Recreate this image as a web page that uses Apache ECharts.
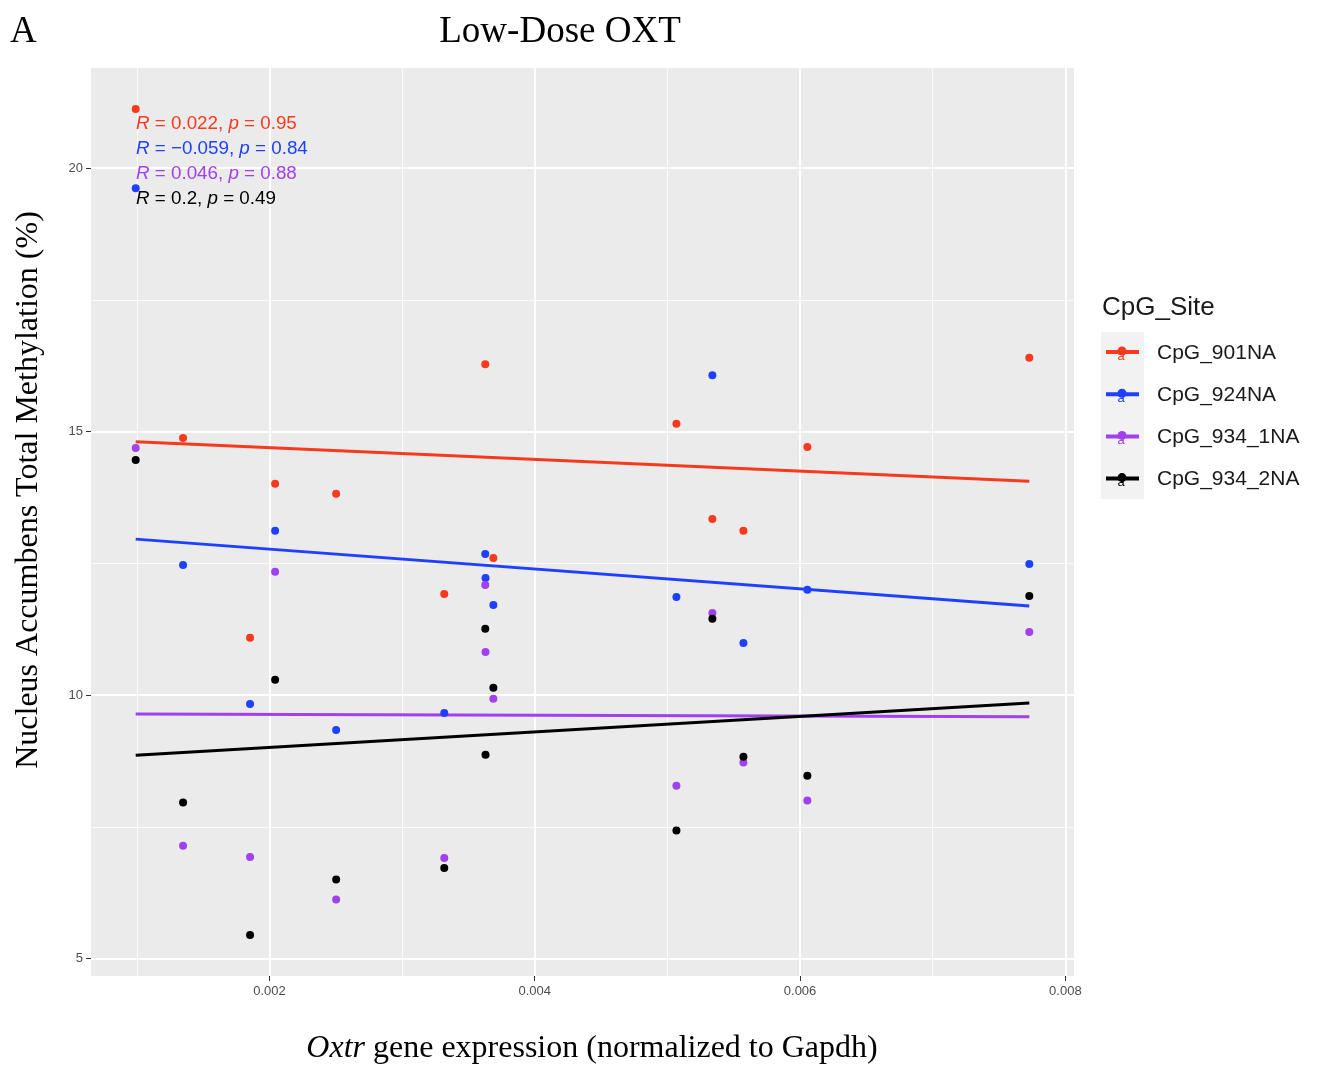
<!DOCTYPE html>
<html>
<head>
<meta charset="utf-8">
<title>Low-Dose OXT</title>
<script src="https://cdn.jsdelivr.net/npm/echarts@6/dist/echarts.min.js"></script>
<style>
  html, body { margin: 0; padding: 0; background: #fff; }
  #main { width: 1318px; height: 1065px; }
</style>
</head>
<body>
<div id="main"></div>
<script>
// Oxtr expression of each animal (x)
var sampleX = [0.000992, 0.001349, 0.001854, 0.002043, 0.002503, 0.003318, 0.003627,
               0.003629, 0.003688, 0.005068, 0.005339, 0.005573, 0.006055, 0.007728];

// methylation (%) per CpG site, same order as sampleX
var site901  = [21.12, 14.88, 11.09, 14.01, 13.82, 11.92, 16.28, null, 12.60, 15.15, 13.34, 13.12, 14.71, 16.40];
var site924  = [19.62, 12.47, 9.83, 13.12, 9.34, 9.66, 12.68, 12.22, 11.71, 11.86, 16.07, 10.99, 12.00, 12.49];
var site9341 = [14.69, 7.14, 6.93, 12.34, 6.12, 6.91, 12.09, 10.82, 9.93, 8.28, 11.56, 8.72, 8.00, 11.20];
var site9342 = [14.46, 7.96, 5.45, 10.29, 6.50, 6.72, 11.26, 8.87, 10.14, 7.43, 11.45, 8.83, 8.47, 11.88];

var siteNames  = ["CpG_901NA", "CpG_924NA", "CpG_934_1NA", "CpG_934_2NA"];
var siteColors = ["#f7391e", "#1f40ff", "#a040ee", "#000000"];

// lm fit lines (start / end)
var fitX = [0.000992, 0.007728];
var fit901  = [14.81, 14.06];
var fit924  = [12.96, 11.69];
var fit9341 = [9.64, 9.59];
var fit9342 = [8.86, 9.85];

// stat_cor labels
var corR = ["0.022", "\u22120.059", "0.046", "0.2"];
var corP = ["0.95", "0.84", "0.88", "0.49"];

// axis ticks
var xTicks = [0.002, 0.004, 0.006, 0.008];
var xMinor = [0.001, 0.003, 0.005, 0.007];
var yTicks = [5, 10, 15, 20];
var yMinor = [7.5, 12.5, 17.5];

var siteData = [site901, site924, site9341, site9342];
var fitData = [fit901, fit924, fit9341, fit9342];

var myChart = echarts.init(document.getElementById("main"));

var series = [];

// panel grid lines (ggplot theme_gray), kept under the marks
var gridLines = [];
xMinor.forEach(function (v) { gridLines.push({ xAxis: v, lineStyle: { width: 0.8 } }); });
yMinor.forEach(function (v) { gridLines.push({ yAxis: v, lineStyle: { width: 0.8 } }); });
xTicks.forEach(function (v) { gridLines.push({ xAxis: v, lineStyle: { width: 1.8 } }); });
yTicks.forEach(function (v) { gridLines.push({ yAxis: v, lineStyle: { width: 1.8 } }); });
series.push({
  type: "scatter",
  data: [],
  z: 0,
  silent: true,
  markLine: {
    silent: true,
    z: 0,
    symbol: "none",
    precision: 6,
    animation: false,
    label: { show: false },
    lineStyle: { color: "#ffffff", type: "solid" },
    data: gridLines
  }
});

for (var i = 0; i < siteNames.length; i++) {
  var pts = [];
  for (var k = 0; k < sampleX.length; k++) {
    if (siteData[i][k] != null) pts.push([sampleX[k], siteData[i][k]]);
  }
  series.push({
    name: siteNames[i],
    type: "scatter",
    symbolSize: 8,
    z: 4,
    itemStyle: { color: siteColors[i], opacity: 1 },
    data: pts
  });
  series.push({
    name: siteNames[i],
    type: "line",
    showSymbol: false,
    z: 3,
    lineStyle: { color: siteColors[i], width: 3 },
    data: [[fitX[0], fitData[i][0]], [fitX[1], fitData[i][1]]]
  });
}

var graphics = [];
// "A" and title
graphics.push({ type: "text", x: 10, y: 32,
  style: { text: "A", font: "37px 'Liberation Serif'", fill: "#000", verticalAlign: "middle" } });
graphics.push({ type: "text", x: 560, y: 32,
  style: { text: "Low-Dose OXT", font: "37px 'Liberation Serif'", fill: "#000", align: "center", verticalAlign: "middle" } });
// axis titles
graphics.push({ type: "text", x: 29, y: 490, rotation: Math.PI / 2,
  style: { text: "Nucleus Accumbens Total Methylation (%)", font: "32px 'Liberation Serif'", fill: "#000", align: "center", verticalAlign: "middle" } });
graphics.push({ type: "text", x: 592, y: 1049,
  style: {
    text: "{i|Oxtr} gene expression (normalized to Gapdh)",
    font: "32px 'Liberation Serif'", fill: "#000", align: "center", verticalAlign: "middle",
    rich: { i: { fontFamily: "Liberation Serif", fontSize: 32, fontStyle: "italic", fill: "#000" } }
  } });
// correlation labels, drawn above points and grid lines
for (var j = 0; j < corR.length; j++) {
  graphics.push({ type: "text", x: 136, y: 124 + j * 25, z: 20,
    style: {
      text: "{i|R} = " + corR[j] + ", {i|p} = " + corP[j],
      font: "18.8px 'Liberation Sans'", fill: siteColors[j], verticalAlign: "middle",
      rich: { i: { fontFamily: "Liberation Sans", fontSize: 18.8, fontStyle: "italic", fill: siteColors[j] } }
    } });
}
// legend
graphics.push({ type: "text", x: 1102, y: 308,
  style: { text: "CpG_Site", font: "26px 'Liberation Sans'", fill: "#1a1a1a", verticalAlign: "middle" } });
graphics.push({ type: "rect", shape: { x: 1101, y: 332, width: 43, height: 167 },
  style: { fill: "#f2f2f2" } });
for (var m = 0; m < siteNames.length; m++) {
  var cy = 352 + m * 42.2;
  graphics.push({ type: "line", shape: { x1: 1106, y1: cy, x2: 1139, y2: cy },
    style: { stroke: siteColors[m], lineWidth: 4 } });
  graphics.push({ type: "circle", shape: { cx: 1122, cy: cy - 1, r: 4.5 },
    style: { fill: siteColors[m] } });
  graphics.push({ type: "text", x: 1121, y: cy + 4,
    style: { text: "a", font: "13px 'Liberation Sans'", fill: siteColors[m], align: "center", verticalAlign: "middle" } });
  graphics.push({ type: "text", x: 1157, y: cy + 1,
    style: { text: siteNames[m], font: "21px 'Liberation Sans'", fill: "#1a1a1a", verticalAlign: "middle" } });
}

var option = {
  animation: false,
  backgroundColor: "#ffffff",
  grid: {
    left: 91,
    right: 244,
    top: 68,
    bottom: 89,
    show: true,
    backgroundColor: "#ebebeb",
    borderWidth: 0
  },
  xAxis: {
    type: "value",
    min: 0.000655,
    max: 0.008065,
    splitLine: { show: false },
    axisLine: { show: false },
    axisTick: { show: true, customValues: xTicks, length: 5, lineStyle: { color: "#333" } },
    axisLabel: {
      customValues: xTicks,
      margin: 9,
      color: "#4d4d4d",
      fontSize: 13,
      fontFamily: "Liberation Sans",
      formatter: function (v) { return v.toFixed(3); }
    }
  },
  yAxis: {
    type: "value",
    min: 4.67,
    max: 21.9,
    splitLine: { show: false },
    axisLine: { show: false },
    axisTick: { show: true, customValues: yTicks, length: 5, lineStyle: { color: "#333" } },
    axisLabel: {
      customValues: yTicks,
      margin: 8,
      color: "#4d4d4d",
      fontSize: 13,
      fontFamily: "Liberation Sans"
    }
  },
  graphic: graphics,
  series: series
};
myChart.setOption(option);
</script>
</body>
</html>
